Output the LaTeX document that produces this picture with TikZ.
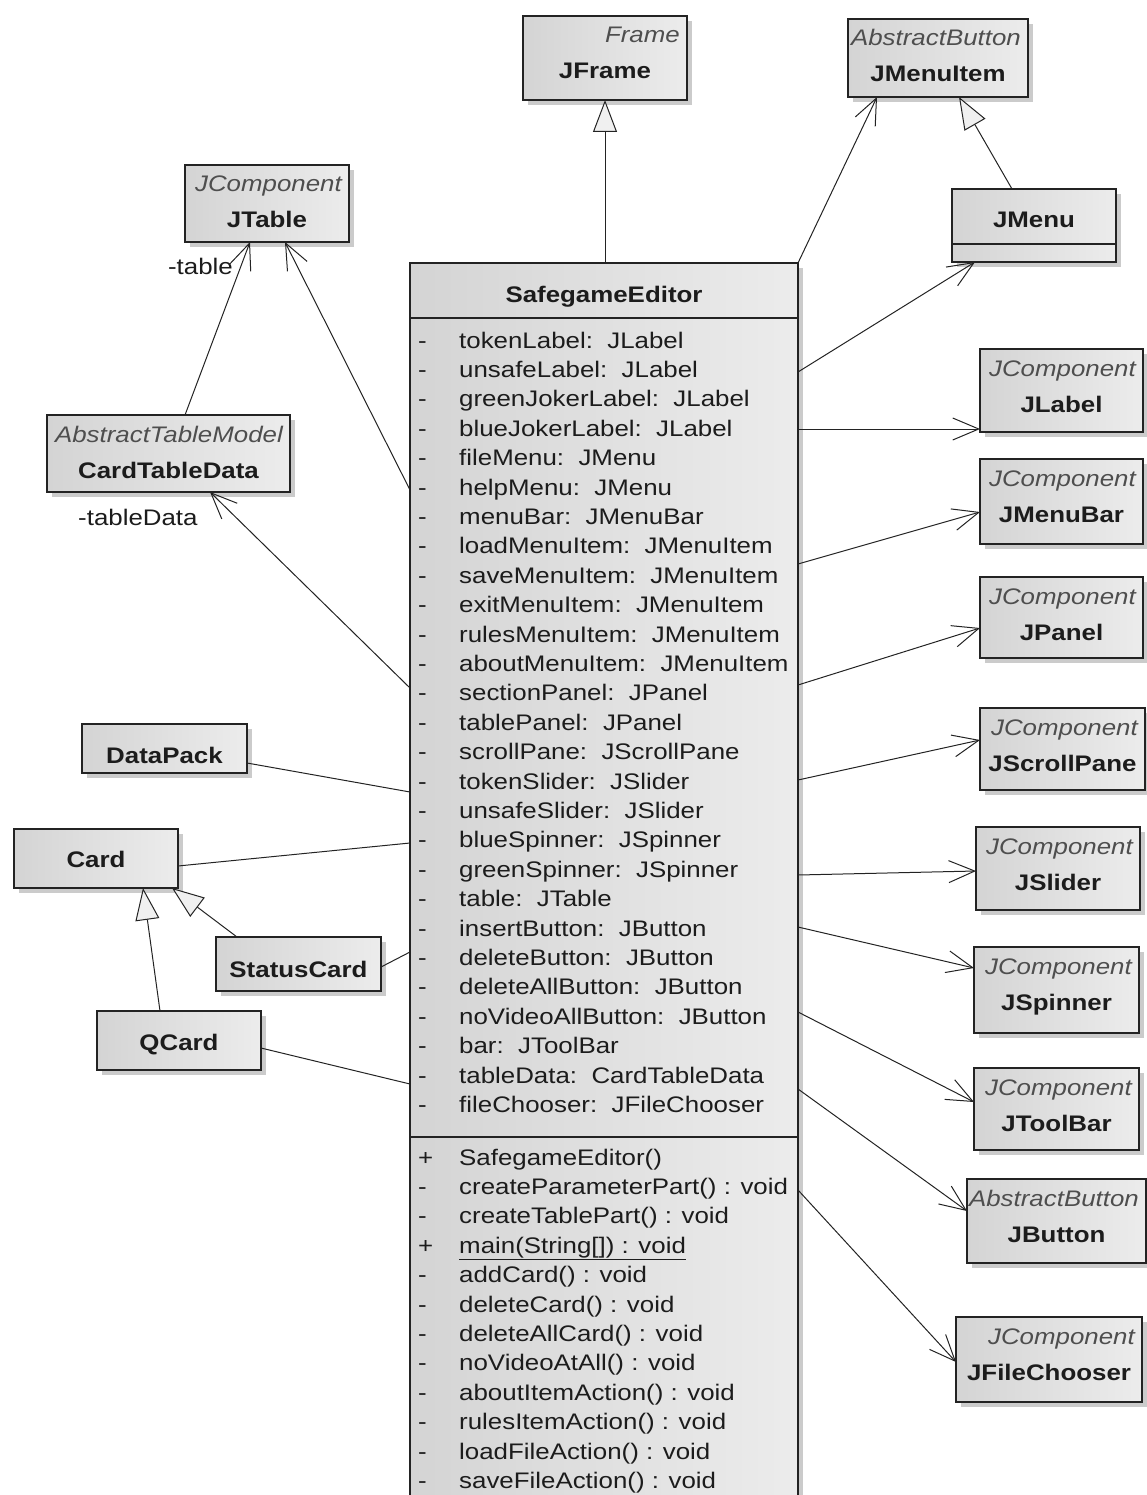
\documentclass[tikz,border=0pt]{standalone}
\usepackage{fontspec}
\setmainfont{Liberation Sans}[FakeStretch=1.15]
\usetikzlibrary{arrows.meta,shadows}

\definecolor{boxleft}{RGB}{212,212,212}
\definecolor{boxright}{RGB}{236,236,236}
\definecolor{inktext}{RGB}{28,28,28}
\definecolor{stereotext}{RGB}{78,78,78}
\definecolor{edge}{RGB}{35,35,35}

\newcommand{\umlsize}{\fontsize{22.5pt}{29.4pt}\selectfont}

% class box with stereotype (right aligned) and bold class name
% #1 name, #2 left, #3 top, #4 right, #5 bottom, #6 stereotype, #7 class
\newcommand{\stereoclass}[7]{%
  \node[umlbox, anchor=north west, minimum width={(#4)-(#2)}, minimum height={(#5)-(#3)}] (#1) at (#2,#3) {};
  \node[stereo, anchor=base east] (#1-st) at ([xshift=-7pt,yshift=-27pt]#1.north east) {#6};
  \node[cname, anchor=base] (#1-nm) at ([yshift=-63pt]#1.north) {#7};
}
% class box with only a name
% #1 name, #2 left, #3 top, #4 right, #5 bottom, #6 baseline y, #7 class
\newcommand{\plainclass}[7]{%
  \node[umlbox, anchor=north west, minimum width={(#4)-(#2)}, minimum height={(#5)-(#3)}] (#1) at (#2,#3) {};
  \node[cname, anchor=base] (#1-nm) at (#1.north |- 0,#6) {#7};
}

\begin{document}
\begin{tikzpicture}[x=1pt,y=-1pt,
  umlbox/.style={draw=edge, line width=1.3pt, left color=boxleft, right color=boxright,
    inner sep=0pt, outer sep=0pt,
    drop shadow={shadow xshift=5pt, shadow yshift=-5pt, fill=black!45, opacity=0.45}},
  stereo/.style={font=\umlsize\itshape, text=stereotext, inner sep=0pt},
  cname/.style={font=\umlsize\bfseries, text=inktext, inner sep=0pt},
  member/.style={font=\umlsize, text=inktext, inner sep=0pt, anchor=base west},
  rolelabel/.style={font=\umlsize, text=inktext, inner sep=0pt},
  link/.style={draw=edge, line width=1pt},
  assoc/.style={link, -{Straight Barb[length=26pt,width=22pt,line width=1pt]}},
  inherit/.style={link, -{Triangle[length=32pt,width=24pt,line width=1pt,fill=gray!12]}},
  rule/.style={draw=edge, line width=1.3pt}
]
\useasboundingbox (0,0) rectangle (1147,1495);
\clip (0,0) rectangle (1147,1495);

% ---------- main class ----------
\node[umlbox, anchor=north west, minimum width=388, minimum height=1260] (se) at (410,263) {};
\node[cname, anchor=base] (se-nm) at (se.north |- 0,302) {SafegameEditor};
\draw[rule] (se.west |- 0,318) -- (se.east |- 0,318);
\draw[rule] (se.west |- 0,1137) -- (se.east |- 0,1137);

\foreach \vis/\txt [count=\i from 0] in {
  -/tokenLabel:\ \ JLabel,
  -/unsafeLabel:\ \ JLabel,
  -/greenJokerLabel:\ \ JLabel,
  -/blueJokerLabel:\ \ JLabel,
  -/fileMenu:\ \ JMenu,
  -/helpMenu:\ \ JMenu,
  -/menuBar:\ \ JMenuBar,
  -/loadMenuItem:\ \ JMenuItem,
  -/saveMenuItem:\ \ JMenuItem,
  -/exitMenuItem:\ \ JMenuItem,
  -/rulesMenuItem:\ \ JMenuItem,
  -/aboutMenuItem:\ \ JMenuItem,
  -/sectionPanel:\ \ JPanel,
  -/tablePanel:\ \ JPanel,
  -/scrollPane:\ \ JScrollPane,
  -/tokenSlider:\ \ JSlider,
  -/unsafeSlider:\ \ JSlider,
  -/blueSpinner:\ \ JSpinner,
  -/greenSpinner:\ \ JSpinner,
  -/table:\ \ JTable,
  -/insertButton:\ \ JButton,
  -/deleteButton:\ \ JButton,
  -/deleteAllButton:\ \ JButton,
  -/noVideoAllButton:\ \ JButton,
  -/bar:\ \ JToolBar,
  -/tableData:\ \ CardTableData,
  -/fileChooser:\ \ JFileChooser}
{
  \node[member] (av\i) at (418,{348+29.4*\i}) {\vis};
  \node[member] (at\i) at (459,{348+29.4*\i}) {\txt};
}

\foreach \vis/\txt [count=\i from 0] in {
  +/SafegameEditor(),
  -/createParameterPart() : void,
  -/createTablePart() : void,
  +/{\underline{main(String[]) : void}},
  -/addCard() : void,
  -/deleteCard() : void,
  -/deleteAllCard() : void,
  -/noVideoAtAll() : void,
  -/aboutItemAction() : void,
  -/rulesItemAction() : void,
  -/loadFileAction() : void,
  -/saveFileAction() : void}
{
  \node[member] (mv\i) at (418,{1165+29.4*\i}) {\vis};
  \node[member] (mt\i) at (459,{1165+29.4*\i}) {\txt};
}

% ---------- surrounding classes ----------
\stereoclass{jframe}{523}{16}{687}{100}{Frame}{JFrame}
\stereoclass{jmenuitem}{848}{19}{1028}{97}{AbstractButton}{JMenuItem}
\stereoclass{jtable}{185}{165}{349}{242}{JComponent}{JTable}
\stereoclass{ctd}{47}{415}{290}{492}{AbstractTableModel}{CardTableData}

\node[umlbox, anchor=north west, minimum width=164, minimum height=73] (jmenu) at (952,189) {};
\node[cname, anchor=base] (jmenu-nm) at (jmenu.north |- 0,228) {JMenu};
\draw[rule] (jmenu.west |- 0,244) -- (jmenu.east |- 0,244);

\stereoclass{jlabel}{980}{349}{1143}{432}{JComponent}{JLabel}
\stereoclass{jmenubar}{980}{459}{1143}{544}{JComponent}{JMenuBar}
\stereoclass{jpanel}{980}{577}{1143}{658}{JComponent}{JPanel}
\stereoclass{jscrollpane}{980}{708}{1145}{790}{JComponent}{JScrollPane}
\stereoclass{jslider}{976}{827}{1140}{910}{JComponent}{JSlider}
\stereoclass{jspinner}{974}{947}{1139}{1033}{JComponent}{JSpinner}
\stereoclass{jtoolbar}{974}{1068}{1139}{1150}{JComponent}{JToolBar}
\stereoclass{jbutton}{967}{1179}{1146}{1263}{AbstractButton}{JButton}
\stereoclass{jfilechooser}{956}{1317}{1142}{1402}{JComponent}{JFileChooser}

\plainclass{datapack}{82}{724}{247}{773}{763}{DataPack}
\plainclass{card}{14}{829}{178}{888}{867}{Card}
\plainclass{statuscard}{216}{937}{381}{991}{977}{StatusCard}
\plainclass{qcard}{97}{1011}{261}{1070}{1050}{QCard}

% ---------- generalisations ----------
\draw[inherit] (jframe.south |- se.north) -- (jframe.south);
\draw[inherit] (jmenu.north -| 1012,0) -- (jmenuitem.south -| 959,0);
\draw[inherit] (qcard.north -| 160,0) -- (card.south -| 143,0);
\draw[inherit] (statuscard.north -| 237,0) -- (card.south -| 172,0);

% ---------- navigable associations ----------
\draw[assoc] (ctd.north -| 185,0) -- (jtable.south -| 250,0);
\draw[assoc] (se.west |- 0,490) -- (jtable.south -| 285,0);
\draw[assoc] (se.west |- 0,688) -- (ctd.south -| 210,0);
\draw[assoc] (se.north east) -- (jmenuitem.south -| 877,0);
\draw[assoc] (se.east |- 0,372) -- (jmenu.south -| 975,0);
\draw[assoc] (se.east |- 0,429) -- (jlabel.west |- 0,429);
\draw[assoc] (se.east |- 0,564) -- (jmenubar.west |- 0,512);
\draw[assoc] (se.east |- 0,685) -- (jpanel.west |- 0,628);
\draw[assoc] (se.east |- 0,780) -- (jscrollpane.west |- 0,740);
\draw[assoc] (se.east |- 0,875) -- (jslider.west |- 0,871);
\draw[assoc] (se.east |- 0,927) -- (jspinner.west |- 0,968);
\draw[assoc] (se.east |- 0,1012) -- (jtoolbar.west |- 0,1102);
\draw[assoc] (se.east |- 0,1089) -- (jbutton.west |- 0,1211);
\draw[assoc] (se.east |- 0,1190) -- (jfilechooser.west |- 0,1362);

% role names
\node[rolelabel, anchor=base east] (role-table) at (233,275) {-table};
\node[rolelabel, anchor=base west] (role-tabledata) at (78,525) {-tableData};

% ---------- plain associations ----------
\draw[link] (datapack.east |- 0,763) -- (se.west |- 0,792);
\draw[link] (card.east |- 0,866) -- (se.west |- 0,843);
\draw[link] (statuscard.east |- 0,967) -- (se.west |- 0,952);
\draw[link] (qcard.east |- 0,1048) -- (se.west |- 0,1084);

\end{tikzpicture}
\end{document}
